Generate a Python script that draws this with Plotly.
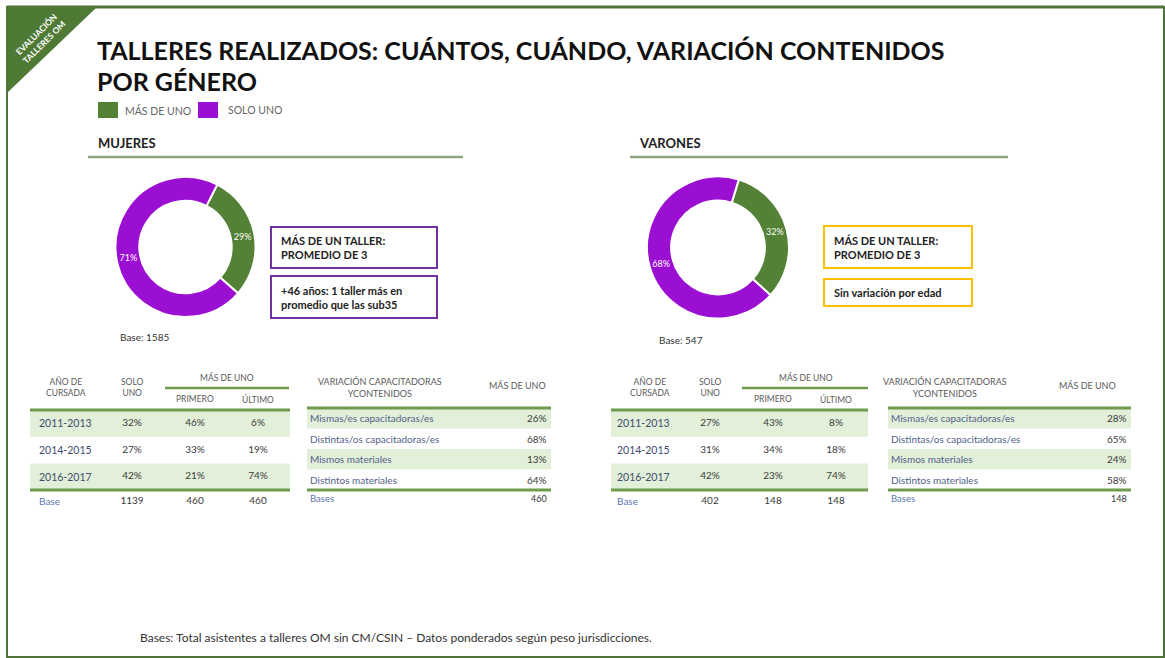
import plotly.graph_objects as go

W, H = 1165, 658

# ---------------- DATA ----------------
legend_labels = ["MÁS DE UNO", "SOLO UNO"]
mujeres_pie = [29, 71]
varones_pie = [32, 68]
mujeres_base = 1585
varones_base = 547

years = ["2011-2013", "2014-2015", "2016-2017"]
muj_solo = [32, 27, 42]
muj_primero = [46, 33, 21]
muj_ultimo = [6, 19, 74]
muj_bases = [1139, 460, 460]
var_solo = [27, 31, 42]
var_primero = [43, 34, 23]
var_ultimo = [8, 18, 74]
var_bases = [402, 148, 148]

cap_labels = ["Mismas/es capacitadoras/es", "Distintas/os capacitadoras/es",
              "Mismos materiales", "Distintos materiales"]
muj_cap = [26, 68, 13, 64]
muj_cap_base = 460
var_cap = [28, 65, 24, 58]
var_cap_base = 148

# ---------------- STYLE ----------------
GREEN = "#538135"
PURPLE = "#9B0FD3"
BAND = "#E2EFD9"
TLINE = "#6E9B4E"
SECLINE = "#8FA67E"
FRAME = "#4F7339"
FONT = "Lato"
HDR = "#5a5a5a"
LBL = "#3E4C6E"
VAL = "#3a3a3a"

fig = go.Figure()
shapes = []
ann = []


def A(x, y, text, size=10, color="#222", xanchor="left", yanchor="middle", align=None, **kw):
    ann.append(dict(x=x, y=y, xref="x", yref="y", text=text, showarrow=False,
                    xanchor=xanchor, yanchor=yanchor, align=align or xanchor,
                    font=dict(family=FONT, size=size, color=color), **kw))


def line(x0, y0, x1, y1, color, width):
    shapes.append(dict(type="line", xref="x", yref="y", x0=x0, y0=y0, x1=x1, y1=y1,
                       line=dict(color=color, width=width), layer="above"))


def rect(x0, y0, x1, y1, fill=None, lc=None, lw=0, layer="below"):
    shapes.append(dict(type="rect", xref="x", yref="y", x0=x0, y0=y0, x1=x1, y1=y1,
                       fillcolor=fill or "rgba(0,0,0,0)",
                       line=dict(color=lc or "rgba(0,0,0,0)", width=lw), layer=layer))


# frame & corner
rect(7, 7, 1164, 657, lc=FRAME, lw=2)
line(7, 7, 1164, 7, FRAME, 3)
shapes.append(dict(type="path", xref="x", yref="y", path="M 7,7 L 97,7 L 7,93 Z",
                   fillcolor="#4E7A36", line=dict(width=0), layer="above"))
A(40, 38, "<b>EVALUACIÓN<br>TALLERES OM</b>", size=8.5, color="white",
  xanchor="center", textangle=-45)

# title
A(95, 50, "<b>TALLERES REALIZADOS: CUÁNTOS, CUÁNDO, VARIACIÓN CONTENIDOS</b>", size=25, color="#111")
A(95, 81, "<b>POR GÉNERO</b>", size=25, color="#111")

# legend
rect(98, 102, 118, 118, fill=GREEN)
A(123, 110, legend_labels[0], size=10.5, color="#666")
rect(198, 102, 218, 118, fill=PURPLE)
A(226, 110, legend_labels[1], size=10.5, color="#666")

# section headers
A(96, 143, "<b>MUJERES</b>", size=13, color="#222")
line(88, 157, 463, 157, SECLINE, 2.5)
A(637, 143, "<b>VARONES</b>", size=13, color="#222")
line(630, 157, 1008, 157, SECLINE, 2.5)


# pies
def pie(vals, cx, cy, r, rot):
    return go.Pie(values=vals, labels=legend_labels, sort=False, direction="clockwise",
                  rotation=rot, hole=0.66,
                  marker=dict(colors=[GREEN, PURPLE], line=dict(color="white", width=2)),
                  texttemplate="%{value}%", textposition="inside",
                  insidetextorientation="horizontal",
                  textfont=dict(color="white", size=9, family=FONT),
                  domain=dict(x=[(cx - r) / W, (cx + r) / W], y=[1 - (cy + r) / H, 1 - (cy - r) / H]),
                  showlegend=False, hoverinfo="skip")


fig.add_trace(pie(mujeres_pie, 185.5, 247, 70, 27))
fig.add_trace(pie(varones_pie, 718, 247.5, 71, 17))

A(118, 337, f"Base: {mujeres_base}", size=10, color="#333")
A(657, 340, f"Base: {varones_base}", size=10, color="#333")

# text boxes
rect(271, 227, 437, 268, lc="#7030A0", lw=2, layer="above")
A(279, 247.5, "<b>MÁS DE UN TALLER:<br>PROMEDIO DE 3</b>", size=11, color="#222")
rect(271, 276, 437, 318, lc="#7030A0", lw=2, layer="above")
A(279, 297, "<b>+46 años: 1 taller más en<br>promedio que las sub35</b>", size=11, color="#222")

rect(824, 226, 972, 268, lc="#FFC000", lw=2, layer="above")
A(832, 247, "<b>MÁS DE UN TALLER:<br>PROMEDIO DE 3</b>", size=11, color="#222")
rect(824, 279, 972, 306, lc="#FFC000", lw=2, layer="above")
A(832, 292.5, "<b>Sin variación por edad</b>", size=11, color="#222")


# table 1 (año de cursada)
def table1(x0, x1, xlab, cols, hdr_x, mas_x, mas_l, solo, primero, ultimo, bases):
    top, rh = 410, 26.7
    for i in (0, 2):
        rect(x0, top + i * rh, x1, top + (i + 1) * rh, fill=BAND)
    line(x0, top, x1, top, TLINE, 3)
    line(x0, top + 3 * rh, x1, top + 3 * rh, TLINE, 3)
    line(mas_l[0], 388, mas_l[1], 388, TLINE, 2.5)
    A(hdr_x, 387, "AÑO DE<br>CURSADA", size=8.5, color=HDR, xanchor="center")
    A(cols[0], 387, "SOLO<br>UNO", size=8.5, color=HDR, xanchor="center")
    A(mas_x, 377, "MÁS DE UNO", size=8.5, color=HDR, xanchor="center")
    A(cols[1], 399, "PRIMERO", size=8.5, color=HDR, xanchor="center")
    A(cols[2], 399, "ÚLTIMO", size=8.5, color=HDR, xanchor="center")
    ys = [top + (i + 0.5) * rh for i in range(len(years))]
    for i, y in enumerate(years):
        A(xlab, ys[i], y, size=10.5, color=LBL)
    A(xlab, 501, "Base", size=10, color="#5A78B0")
    for c, series in zip(cols, [solo, primero, ultimo]):
        fig.add_trace(go.Scatter(x=[c] * len(series), y=ys, mode="text",
                                 text=[f"{v}%" for v in series], textposition="middle center",
                                 textfont=dict(family=FONT, size=10, color=VAL),
                                 showlegend=False, hoverinfo="skip"))
    fig.add_trace(go.Scatter(x=cols, y=[501] * 3, mode="text", text=[str(b) for b in bases],
                             textposition="middle center",
                             textfont=dict(family=FONT, size=10, color=VAL),
                             showlegend=False, hoverinfo="skip"))


def table2(x0, x1, hdr_x, mas_x, vals, base):
    top, rh = 408, 20.5
    for i in (0, 2):
        rect(x0, top + i * rh, x1, top + (i + 1) * rh, fill=BAND)
    line(x0, top, x1, top, TLINE, 3)
    line(x0, top + 4 * rh, x1, top + 4 * rh, TLINE, 3)
    A(hdr_x, 387, "VARIACIÓN CAPACITADORAS<br>YCONTENIDOS", size=9, color=HDR, xanchor="center")
    A(mas_x, 385, "MÁS DE UNO", size=9, color=HDR, xanchor="center")
    for i, (lab, v) in enumerate(zip(cap_labels, vals)):
        y = top + (i + 0.5) * rh
        A(x0 + 1, y, lab, size=10, color="#52628A")
        A(x1 - 2, y, f"{v}%", size=10, color=VAL, xanchor="right")
    A(x0 + 1, 498, "Bases", size=9.5, color="#5A78B0")
    A(x1 - 2, 498, str(base), size=9, color=VAL, xanchor="right")


table1(30, 290, 37, [132, 195, 258], 66, 227, (165, 289),
       muj_solo, muj_primero, muj_ultimo, muj_bases)
table2(307, 551, 380, 517, muj_cap, muj_cap_base)
table1(611, 868, 615, [710, 773, 836], 650, 806, (742, 868),
       var_solo, var_primero, var_ultimo, var_bases)
table2(888, 1131, 945, 1087, var_cap, var_cap_base)

# footer
A(138, 637, "Bases: Total asistentes a talleres OM sin CM/CSIN – Datos ponderados según peso jurisdicciones.",
  size=12, color="#333")

fig.update_layout(
    width=W, height=H, margin=dict(l=0, r=0, t=0, b=0),
    paper_bgcolor="white", plot_bgcolor="white",
    xaxis=dict(range=[0, W], visible=False, fixedrange=True, domain=[0, 1]),
    yaxis=dict(range=[H, 0], visible=False, fixedrange=True, domain=[0, 1]),
    shapes=shapes, annotations=ann, showlegend=False,
    font=dict(family=FONT),
)

fig.write_html("out.html", config={"displayModeBar": False},
               post_script="document.body.style.margin='0';document.body.style.overflow='hidden';")
